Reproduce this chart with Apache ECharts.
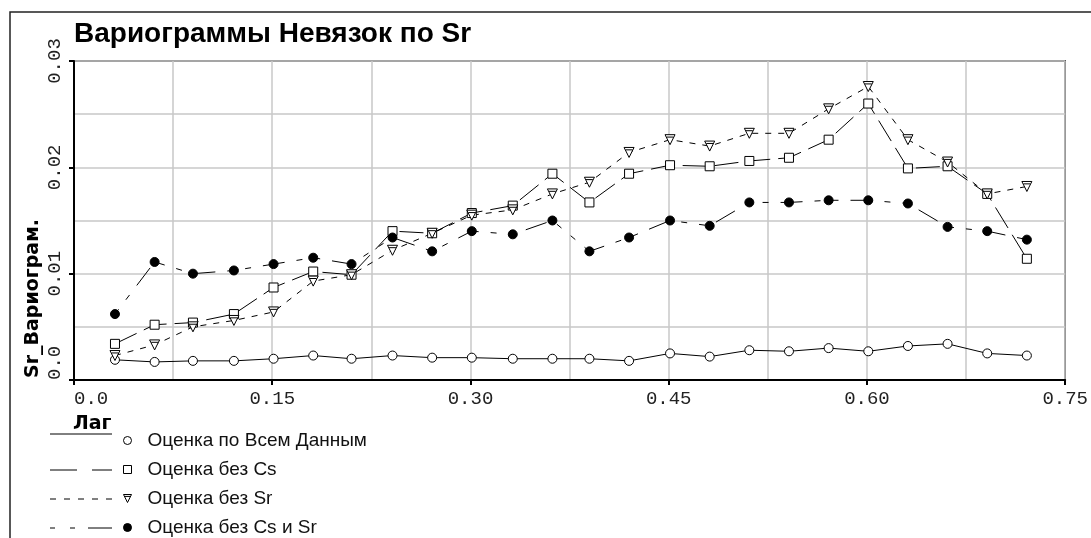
<!DOCTYPE html>
<html>
<head>
<meta charset="utf-8">
<title>Вариограммы Невязок по Sr</title>
<script src="https://cdn.jsdelivr.net/npm/echarts@6/dist/echarts.min.js"></script>
<style>
    html, body { margin: 0; padding: 0; background: #fff; }
    #chart { width: 1091px; height: 538px; }
</style>
</head>
<body>
<div id="chart"></div>
<script>
// Lag values (x)
const lags = [0.031, 0.061, 0.090, 0.121, 0.151, 0.181, 0.210, 0.241, 0.271, 0.301, 0.332, 0.362,
              0.390, 0.420, 0.451, 0.481, 0.511, 0.541, 0.571, 0.601, 0.631, 0.661, 0.691, 0.721];

// Variogram estimates
const allData = [0.0019, 0.0017, 0.0018, 0.0018, 0.0020, 0.0023, 0.0020, 0.0023, 0.0021, 0.0021, 0.0020, 0.0020,
                 0.0020, 0.0018, 0.0025, 0.0022, 0.0028, 0.0027, 0.0030, 0.0027, 0.0032, 0.0034, 0.0025, 0.0023];
const noCs    = [0.0034, 0.0052, 0.0054, 0.0062, 0.0087, 0.0102, 0.0099, 0.0140, 0.0138, 0.0157, 0.0164, 0.0194,
                 0.0167, 0.0194, 0.0202, 0.0201, 0.0206, 0.0209, 0.0226, 0.0260, 0.0199, 0.0201, 0.0175, 0.0114];
const noSr    = [0.0023, 0.0033, 0.0050, 0.0056, 0.0064, 0.0093, 0.0099, 0.0122, 0.0138, 0.0155, 0.0160, 0.0175,
                 0.0186, 0.0214, 0.0226, 0.0220, 0.0232, 0.0232, 0.0255, 0.0276, 0.0226, 0.0205, 0.0175, 0.0182];
const noCsSr  = [0.0062, 0.0111, 0.0100, 0.0103, 0.0109, 0.0115, 0.0109, 0.0134, 0.0121, 0.0140, 0.0137, 0.0150,
                 0.0121, 0.0134, 0.0150, 0.0145, 0.0167, 0.0167, 0.0169, 0.0169, 0.0166, 0.0144, 0.0140, 0.0132];

const seriesNames = ['Оценка по Всем Данным', 'Оценка без Cs', 'Оценка без Sr', 'Оценка без Cs и Sr'];

// inverted triangle with a bar under its top edge
const triPath = 'path://M0,0L10,0L5,10Z M1.6,2.4L8.4,2.4';

const hollow = { color: '#fff', borderColor: '#000', borderWidth: 1 };
const solid = { color: '#000', borderColor: '#000', borderWidth: 1 };

function pairs(ys) {
    return lags.map((x, i) => [x, ys[i]]);
}

function fmt(v) {
    return v === 0 ? '0.0' : v.toFixed(2);
}

function makeSeries(name, ys, symbol, size, style, dash) {
    return {
        name: name,
        type: 'line',
        data: pairs(ys),
        symbol: symbol,
        symbolSize: size,
        showAllSymbol: true,
        itemStyle: style,
        lineStyle: { color: '#000', width: 1, type: dash },
        emphasis: { disabled: true }
    };
}

const chart = echarts.init(document.getElementById('chart'));

// legend line samples, drawn to the left of the legend markers
const legendRows = [434, 470, 499, 528];
const legendDash = [null, [27, 15], [6, 8], [5, 15, 5, 13, 24, 20]];

const graphics = [
    {
        type: 'rect',
        shape: { x: 10, y: 12, width: 1200, height: 700 },
        style: { fill: 'none', stroke: '#222', lineWidth: 1.5 },
        silent: true
    },
    {
        type: 'text',
        left: 73, top: 415,
        style: { text: 'Лаг', font: 'bold 19px "DejaVu Sans"', fill: '#000' }
    },
    {
        type: 'text',
        x: 24, y: 378,
        rotation: Math.PI / 2,
        style: { text: 'Sr_Вариограм.', font: 'bold 19px "DejaVu Sans"', fill: '#000',
                 align: 'left', verticalAlign: 'top' }
    }
];
legendRows.forEach((y, i) => {
    graphics.push({
        type: 'line',
        shape: { x1: 50, y1: y, x2: 112, y2: y },
        style: { stroke: '#000', lineWidth: 1, lineDash: legendDash[i] }
    });
});

const gridLine = { lineStyle: { color: '#c8c8c8', width: 1.5 } };
const labelFont = { fontFamily: '"Liberation Mono", monospace', fontSize: 19, color: '#222' };

const option = {
    animation: false,
    backgroundColor: '#fff',
    title: {
        text: 'Вариограммы Невязок по Sr',
        left: 74, top: 20,
        padding: 0,
        textStyle: { fontFamily: '"Liberation Sans", Arial', fontWeight: 'bold', fontSize: 28, color: '#000' }
    },
    grid: {
        left: 74, right: 25, top: 61, bottom: 158,
        show: true, borderColor: '#000', borderWidth: 1.5
    },
    legend: {
        orient: 'vertical',
        left: 123, top: 431,
        height: 120,
        padding: 0,
        itemWidth: 8, itemHeight: 8,
        itemGap: 10,
        selectedMode: false,
        textStyle: { fontFamily: '"Liberation Sans", Arial', fontSize: 19, lineHeight: 19,
                     color: '#111', padding: [0, 0, 0, 11] },
        data: [
            { name: seriesNames[0], icon: 'circle', itemStyle: hollow },
            { name: seriesNames[1], icon: 'rect', itemStyle: hollow },
            { name: seriesNames[2], icon: triPath, itemStyle: hollow },
            { name: seriesNames[3], icon: 'circle', itemStyle: solid }
        ]
    },
    xAxis: {
        type: 'value',
        min: 0, max: 0.75, interval: 0.15,
        axisLine: { lineStyle: { color: '#000', width: 2 } },
        axisTick: { show: true, length: 5, lineStyle: { color: '#000', width: 2 } },
        minorTick: { show: false, splitNumber: 2 },
        splitLine: gridLine,
        minorSplitLine: Object.assign({ show: true }, gridLine),
        axisLabel: Object.assign({ margin: 9, alignMinLabel: 'left', formatter: fmt }, labelFont)
    },
    yAxis: {
        type: 'value',
        min: 0, max: 0.03, interval: 0.01,
        axisLine: { show: true, lineStyle: { color: '#000', width: 2 } },
        axisTick: { show: true, length: 5, lineStyle: { color: '#000', width: 2 } },
        minorTick: { show: false, splitNumber: 2 },
        splitLine: gridLine,
        minorSplitLine: Object.assign({ show: true }, gridLine),
        axisLabel: Object.assign({ rotate: 90, margin: 10, alignMinLabel: 'left', formatter: fmt }, labelFont)
    },
    graphic: graphics,
    series: [
        makeSeries(seriesNames[0], allData, 'circle', 9, hollow, 'solid'),
        makeSeries(seriesNames[1], noCs, 'rect', 9, hollow, [24, 8]),
        makeSeries(seriesNames[2], noSr, triPath, 10, hollow, [6, 7]),
        makeSeries(seriesNames[3], noCsSr, 'circle', 9, solid, [6, 12, 6, 12, 22, 12])
    ]
};

chart.setOption(option);
</script>
</body>
</html>
